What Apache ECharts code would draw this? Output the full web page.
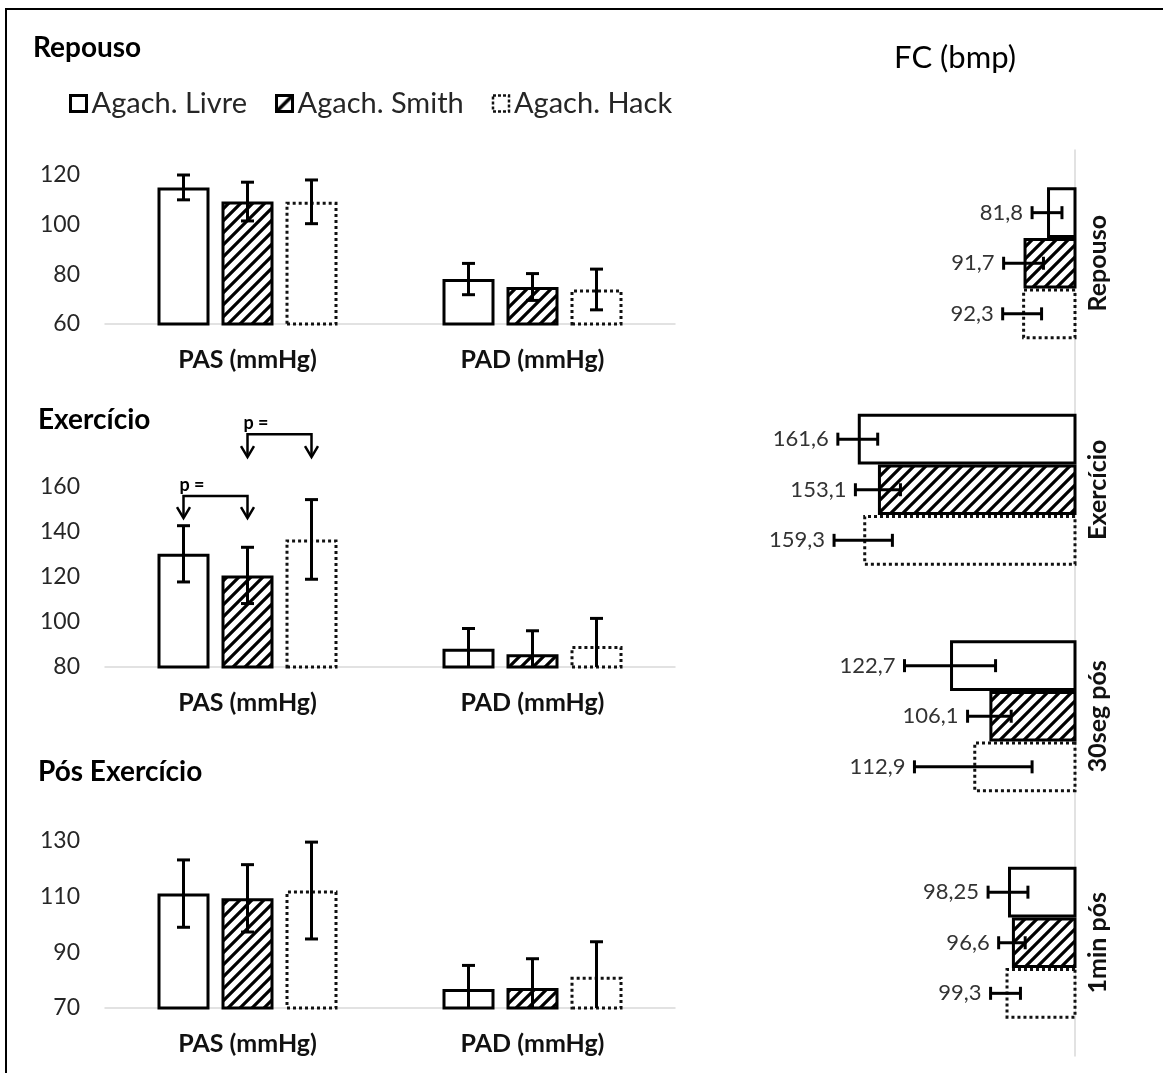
<!DOCTYPE html>
<html><head><meta charset="utf-8">
<script src="https://cdn.jsdelivr.net/npm/echarts@6/dist/echarts.min.js"></script>
<style>html,body{margin:0;padding:0;background:#fff}#c{width:1163px;height:1073px}</style>
</head><body><div id="c"></div>
<script>
// ---------------- DATA ----------------
const seriesNames = ['Agach. Livre', 'Agach. Smith', 'Agach. Hack'];
const bpCategories = ['PAS (mmHg)', 'PAD (mmHg)'];
const panelTitles = ['Repouso', 'Exercício', 'Pós Exercício'];
// mean per group: [PAS, PAD]
const repousoMeans = [[115, 78.1], [109.3, 74.9], [109.2, 73.9]];
const repousoErrs = [[5, 6.3], [7.8, 5.4], [8.8, 8.2]];
const exercicioMeans = [[130.3, 88.1], [120.7, 85.7], [136.7, 89.3]];
const exercicioErrs = [[12.5, 9], [12.5, 10.4], [17.7, 12.3]];
const posMeans = [[111.1, 76.8], [109.4, 77.2], [112.2, 81.2]];
const posErrs = [[12.1, 8.5], [12.1, 10.5], [17.4, 12.6]];
// y axis [min, max, interval]
const repousoAxis = [60, 120, 20];
const exercicioAxis = [80, 160, 20];
const posAxis = [70, 130, 20];
// p comparisons in Exercício PAS: [groupA, groupB, bracketValue, arrowTipValue]
const pComparisons = [[0, 1, 156, 146.2], [1, 2, 183.5, 173.3]];
const pLabel = 'p =';

const fcTitle = 'FC (bmp)';
const fcCategories = ['Repouso', 'Exercício', '30seg pós', '1min pós'];
const fcLivre = [81.8, 161.6, 122.7, 98.25];
const fcSmith = [91.7, 153.1, 106.1, 96.6];
const fcHack = [92.3, 159.3, 112.9, 99.3];
const fcLivreErr = [6.3, 8.4, 19.2, 8.4];
const fcSmithErr = [8.4, 9.5, 9.2, 5.6];
const fcHackErr = [8.2, 12.3, 24.8, 6.3];
const fcAxis = [70, 210];

// ---------------- STYLE ----------------
const FONT = 'Lato';
const BAR_W = 52, BAR_GAP = 12;
const FC_CAT_GAP = 0.33;
function stripeCanvas(s, lw) {
  const c = document.createElement('canvas'); c.width = s; c.height = s;
  const g = c.getContext('2d');
  g.fillStyle = '#fff'; g.fillRect(0, 0, s, s);
  g.strokeStyle = '#000'; g.lineWidth = lw; g.lineCap = 'square';
  g.beginPath();
  g.moveTo(-2, s + 2); g.lineTo(s + 2, -2);
  g.moveTo(-2, 2); g.lineTo(2, -2);
  g.moveTo(s - 2, s + 2); g.lineTo(s + 2, s - 2);
  g.stroke();
  return c;
}
const hatch = stripeCanvas(12, 3.2);
const legendHatch = stripeCanvas(16, 3.5);
const groupStyles = [
  { color: '#fff', borderColor: '#000', borderWidth: 3 },
  { color: { image: hatch, repeat: 'repeat' }, borderColor: '#000', borderWidth: 3 },
  { color: '#fff', borderColor: '#111', borderWidth: 3, borderType: [3, 3] }
];
const legendStyles = [
  { color: '#fff', borderColor: '#000', borderWidth: 3 },
  { color: { image: legendHatch, repeat: 'repeat' }, borderColor: '#000', borderWidth: 3 },
  { color: '#fff', borderColor: '#111', borderWidth: 2.5, borderType: [3, 2] }
];

const panels = [
  { means: repousoMeans, errs: repousoErrs, axis: repousoAxis, top: 175, height: 149 },
  { means: exercicioMeans, errs: exercicioErrs, axis: exercicioAxis, top: 487, height: 180 },
  { means: posMeans, errs: posErrs, axis: posAxis, top: 841, height: 167 }
];

const grids = [], xAxes = [], yAxes = [], series = [];
panels.forEach((p, pi) => {
  grids.push({ left: 105, width: 570, top: p.top, height: p.height, outerBoundsMode: 'none' });
  xAxes.push({
    type: 'category', gridIndex: pi, data: bpCategories,
    axisLine: { show: true, lineStyle: { color: '#d9d9d9', width: 1.5 } },
    axisTick: { show: false }, splitLine: { show: false },
    axisLabel: { margin: 23, fontFamily: FONT, fontWeight: 'bold', fontSize: 25, color: '#111' }
  });
  yAxes.push({
    type: 'value', gridIndex: pi, min: p.axis[0], max: p.axis[1], interval: p.axis[2],
    axisLine: { show: false }, axisTick: { show: false }, splitLine: { show: false },
    axisLabel: { margin: 25, fontFamily: FONT, fontSize: 23, color: '#262626' }
  });
  seriesNames.forEach((name, g) => {
    series.push({
      type: 'bar', name, xAxisIndex: pi, yAxisIndex: pi, data: p.means[g],
      barWidth: BAR_W, barGap: (BAR_GAP / BAR_W * 100) + '%',
      itemStyle: groupStyles[g], silent: true
    });
  });
  const errData = [];
  p.means.forEach((row, g) => row.forEach((m, c) => errData.push([c, m, p.errs[g][c], g])));
  const axMin = p.axis[0];
  series.push({
    type: 'custom', xAxisIndex: pi, yAxisIndex: pi, z: 10, silent: true, data: errData,
    renderItem(params, api) {
      const c = api.value(0), m = api.value(1), e = api.value(2), g = api.value(3);
      const x = api.coord([c, m])[0] + (g - 1) * (BAR_W + BAR_GAP);
      const top = api.coord([c, m + e])[1];
      const clipped = m - e < axMin;
      const bot = api.coord([c, Math.max(m - e, axMin)])[1];
      const st = { stroke: '#000', lineWidth: 3 };
      const ch = [
        { type: 'line', shape: { x1: x, y1: top, x2: x, y2: bot }, style: st },
        { type: 'line', shape: { x1: x - 6.5, y1: top, x2: x + 6.5, y2: top }, style: st }
      ];
      if (!clipped) ch.push({ type: 'line', shape: { x1: x - 6.5, y1: bot, x2: x + 6.5, y2: bot }, style: st });
      return { type: 'group', children: ch };
    }
  });
});

// ---- FC panel ----
const fcGi = 3;
grids.push({ left: 743, right: 88, top: 150, height: 906, outerBoundsMode: 'none' });
xAxes.push({
  type: 'value', gridIndex: fcGi, min: fcAxis[0], max: fcAxis[1], inverse: true, show: false,
  splitLine: { show: false }
});
yAxes.push({
  type: 'category', gridIndex: fcGi, data: fcCategories, inverse: true, position: 'right',
  axisLine: { show: true, lineStyle: { color: '#d9d9d9', width: 1.5 } },
  axisTick: { show: false }, splitLine: { show: false },
  axisLabel: { rotate: 90, margin: 10, fontFamily: FONT, fontWeight: 'bold', fontSize: 25, color: '#111' }
});
const fcVals = [fcLivre, fcSmith, fcHack];
const fcErrs = [fcLivreErr, fcSmithErr, fcHackErr];
seriesNames.forEach((name, g) => {
  series.push({
    type: 'bar', name, xAxisIndex: fcGi, yAxisIndex: fcGi, data: fcVals[g],
    barGap: '0%', barCategoryGap: (FC_CAT_GAP * 100) + '%',
    itemStyle: groupStyles[g], silent: true
  });
});
const fcErrData = [];
fcVals.forEach((arr, g) => arr.forEach((m, c) => fcErrData.push([m, c, fcErrs[g][c], g])));
series.push({
  type: 'custom', xAxisIndex: fcGi, yAxisIndex: fcGi, z: 10, silent: true, data: fcErrData,
  renderItem(params, api) {
    const m = api.value(0), c = api.value(1), e = api.value(2), g = api.value(3);
    const band = api.size([0, 1])[1];
    const bh = band * (1 - FC_CAT_GAP) / 3;
    const y = api.coord([m, c])[1] + (g - 1) * bh;
    const xl = api.coord([m + e, c])[0];
    const xr = api.coord([m - e, c])[0];
    const st = { stroke: '#000', lineWidth: 3 };
    return {
      type: 'group', children: [
        { type: 'line', shape: { x1: xl, y1: y, x2: xr, y2: y }, style: st },
        { type: 'line', shape: { x1: xl, y1: y - 6.5, x2: xl, y2: y + 6.5 }, style: st },
        { type: 'line', shape: { x1: xr, y1: y - 6.5, x2: xr, y2: y + 6.5 }, style: st },
        { type: 'text', x: xl - 9, y: y, style: {
          text: String(m).replace('.', ','), align: 'right', verticalAlign: 'middle',
          font: '22px ' + FONT, fill: '#333' } }
      ]
    };
  }
});

const chart = echarts.init(document.getElementById('c'), null, { renderer: 'canvas' });
chart.setOption({
  animation: false,
  backgroundColor: '#fff',
  legend: {
    data: seriesNames.map((n, g) => ({ name: n, itemStyle: legendStyles[g] })),
    left: 64, top: 84, itemWidth: 16, itemHeight: 16, itemGap: 28, icon: 'rect',
    selectedMode: false,
    textStyle: { fontFamily: FONT, fontSize: 29, color: '#262626' }
  },
  grid: grids, xAxis: xAxes, yAxis: yAxes, series
});

// ---- texts, annotations and frame ----
const txt = (text, x, y, size, bold, align) => ({
  type: 'text', x, y, silent: true,
  style: { text, font: (bold ? 'bold ' : '') + size + 'px ' + FONT, fill: '#000',
    align: align || 'left', verticalAlign: 'middle' }
});
const gfx = [
  txt(panelTitles[0], 33, 48, 28, true),
  txt(panelTitles[1], 38, 420, 28, true),
  txt(panelTitles[2], 38, 772, 28, true),
  txt(fcTitle, 955, 58, 31, false, 'center'),
  { type: 'line', silent: true, shape: { x1: 6, y1: 9, x2: 6, y2: 1073 }, style: { stroke: '#000', lineWidth: 2 } },
  { type: 'line', silent: true, shape: { x1: 5, y1: 9, x2: 1163, y2: 9 }, style: { stroke: '#000', lineWidth: 2 } }
];
const ast = { stroke: '#000', lineWidth: 2.5, fill: null };
pComparisons.forEach(([ga, gb, vLine, vTip]) => {
  const base = chart.convertToPixel({ gridIndex: 1 }, [0, vLine]);
  const tip = chart.convertToPixel({ gridIndex: 1 }, [0, vTip])[1];
  const xa = base[0] + (ga - 1) * (BAR_W + BAR_GAP);
  const xb = base[0] + (gb - 1) * (BAR_W + BAR_GAP);
  const yl = base[1];
  gfx.push({ type: 'polyline', silent: true, shape: { points: [[xa, tip], [xa, yl], [xb, yl], [xb, tip]] }, style: ast });
  [xa, xb].forEach(x => gfx.push({ type: 'polyline', silent: true,
    shape: { points: [[x - 6.5, tip - 11], [x, tip], [x + 6.5, tip - 11]] }, style: ast }));
  gfx.push(txt(pLabel, xa - 4, yl - 11, 18, true));
});
chart.setOption({ graphic: gfx });
</script>
</body></html>
